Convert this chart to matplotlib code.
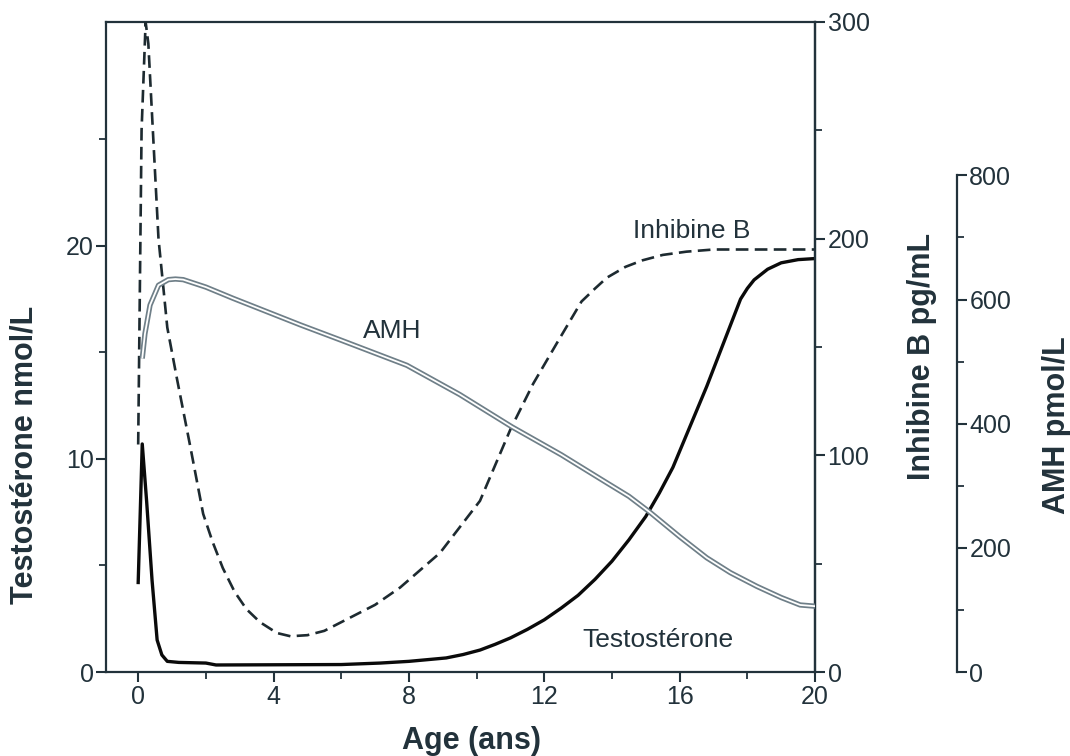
import numpy as np
import matplotlib.pyplot as plt

# values
age_testo = [0.0, 0.12, 0.25, 0.41, 0.56, 0.7, 0.86, 1.2, 2.0, 2.3, 6.0, 7.15, 8.0, 9.1, 9.6,
             10.1, 10.55, 11.0, 11.5, 12.0, 12.5, 13.0, 13.5, 14.0, 14.5, 15.0, 15.4, 15.8,
             16.8, 17.8, 18.0, 18.2, 18.6, 19.0, 19.5, 20.0]
testo = [4.2, 10.7, 8.0, 4.3, 1.5, 0.8, 0.5, 0.45, 0.42, 0.33, 0.35, 0.42, 0.5, 0.66, 0.82,
         1.03, 1.3, 1.6, 2.0, 2.45, 3.0, 3.6, 4.35, 5.2, 6.2, 7.3, 8.4, 9.6,
         13.4, 17.5, 18.0, 18.4, 18.9, 19.2, 19.35, 19.4]

age_inh = [0.0, 0.1, 0.22, 0.3, 0.45, 0.6, 0.74, 0.86, 1.15, 1.54, 1.92, 2.2, 2.5, 2.85, 3.2,
           3.6, 4.1, 4.5, 5.0, 5.5, 6.0, 7.0, 7.74, 8.92, 10.1, 11.0, 11.67, 12.38, 13.1,
           13.5, 13.85, 14.4, 14.9, 15.5, 16.2, 17.0, 18.0, 20.0]
inhibine = [105, 250, 300, 290, 245, 200, 178, 159, 135, 104, 73, 60, 48, 37, 29,
            23, 18, 16.5, 17, 19, 23, 31, 39, 55, 79, 112, 133, 152, 171,
            177, 182, 187, 190, 192.5, 194, 195, 195, 195]

age_amh = [0.12, 0.2, 0.35, 0.6, 0.89, 1.1, 1.33, 2.0, 2.8, 4.8, 5.97, 7.94, 9.5, 11.04,
           12.5, 13.84, 14.5, 15.13, 16.0, 16.8, 17.5, 18.28, 19.0, 19.56, 20.0]
amh = [505, 545, 591, 623, 632, 633, 632, 620, 602, 559, 535, 494, 447, 395,
       350, 305, 283, 257, 218, 184, 160, 138, 120, 108, 106]

x_major = [0, 4, 8, 12, 16, 20]
x_minor = [2, 6, 10, 14, 18]

plt.rcParams['font.family'] = ['Liberation Sans', 'DejaVu Sans']
ink = '#22323b'

fig = plt.figure(figsize=(10.7, 7.56), dpi=100)
ax = fig.add_axes([0.0991, 0.1111, 0.6626, 0.8598])
ax2 = ax.twinx()
ax3 = ax.twinx()

# curves
ax3.plot(age_amh, amh, color='#6f7f88', lw=3.8, solid_capstyle='butt', solid_joinstyle='round')
ax3.plot(age_amh, amh, color='white', lw=1.3, solid_capstyle='butt', solid_joinstyle='round')
ax2.plot(age_inh, inhibine, color='#1d2a30', lw=1.9, dashes=(4.8, 2.4))
ax.plot(age_testo, testo, color='#0a0a0a', lw=2.4, solid_joinstyle='round')

# left axis (testosterone)
ax.set_xlim(-0.95, 20)
ax.set_ylim(0, 30.5)
ax.set_xticks(x_major)
ax.set_xticks(x_minor, minor=True)
ax.set_yticks([0, 10, 20])
ax.set_yticks([5, 15, 25], minor=True)

# right axis (inhibine B)
ax2.set_ylim(0, 300)
ax2.set_yticks([0, 100, 200, 300])
ax2.set_yticks([50, 150, 250], minor=True)

# offset axis (AMH)
ax3.set_ylim(0, 1047)
ax3.set_yticks([0, 200, 400, 600, 800])
ax3.set_yticks([100, 300, 500, 700], minor=True)
ax3.spines['right'].set_position(('axes', 1.2))
ax3.spines['right'].set_bounds(0, 800)

for a in (ax2, ax3):
    for s in ('left', 'top', 'bottom'):
        a.spines[s].set_visible(False)
for a in (ax, ax2, ax3):
    for s in a.spines.values():
        s.set_color(ink)
        s.set_linewidth(1.6)
    a.tick_params(which='major', direction='out', length=7, width=1.5,
                  color=ink, labelcolor=ink, labelsize=18, pad=2)
    a.tick_params(which='minor', direction='out', length=5, width=1.3, color=ink)

ax.set_xlabel('Age (ans)', fontsize=22, fontweight='bold', color=ink)
ax.xaxis.set_label_coords(0.515, -0.083)
ax.set_ylabel('Testostérone nmol/L', fontsize=22, fontweight='bold', color=ink)
ax.yaxis.set_label_coords(-0.0945, 0.334)
ax2.set_ylabel('Inhibine B pg/mL', fontsize=22, fontweight='bold', color=ink)
ax2.yaxis.set_label_coords(1.13, 0.485)
ax3.set_ylabel('AMH pmol/L', fontsize=22, fontweight='bold', color=ink)
ax3.yaxis.set_label_coords(1.32, 0.38)

# curve names
ax.text(7.5, 16.0, 'AMH', fontsize=19, color=ink, ha='center', va='center')
ax.text(16.37, 20.7, 'Inhibine B', fontsize=19, color=ink, ha='center', va='center')
ax.text(15.36, 1.5, 'Testostérone', fontsize=19, color=ink, ha='center', va='center')

fig.savefig('out.png', dpi=100)
